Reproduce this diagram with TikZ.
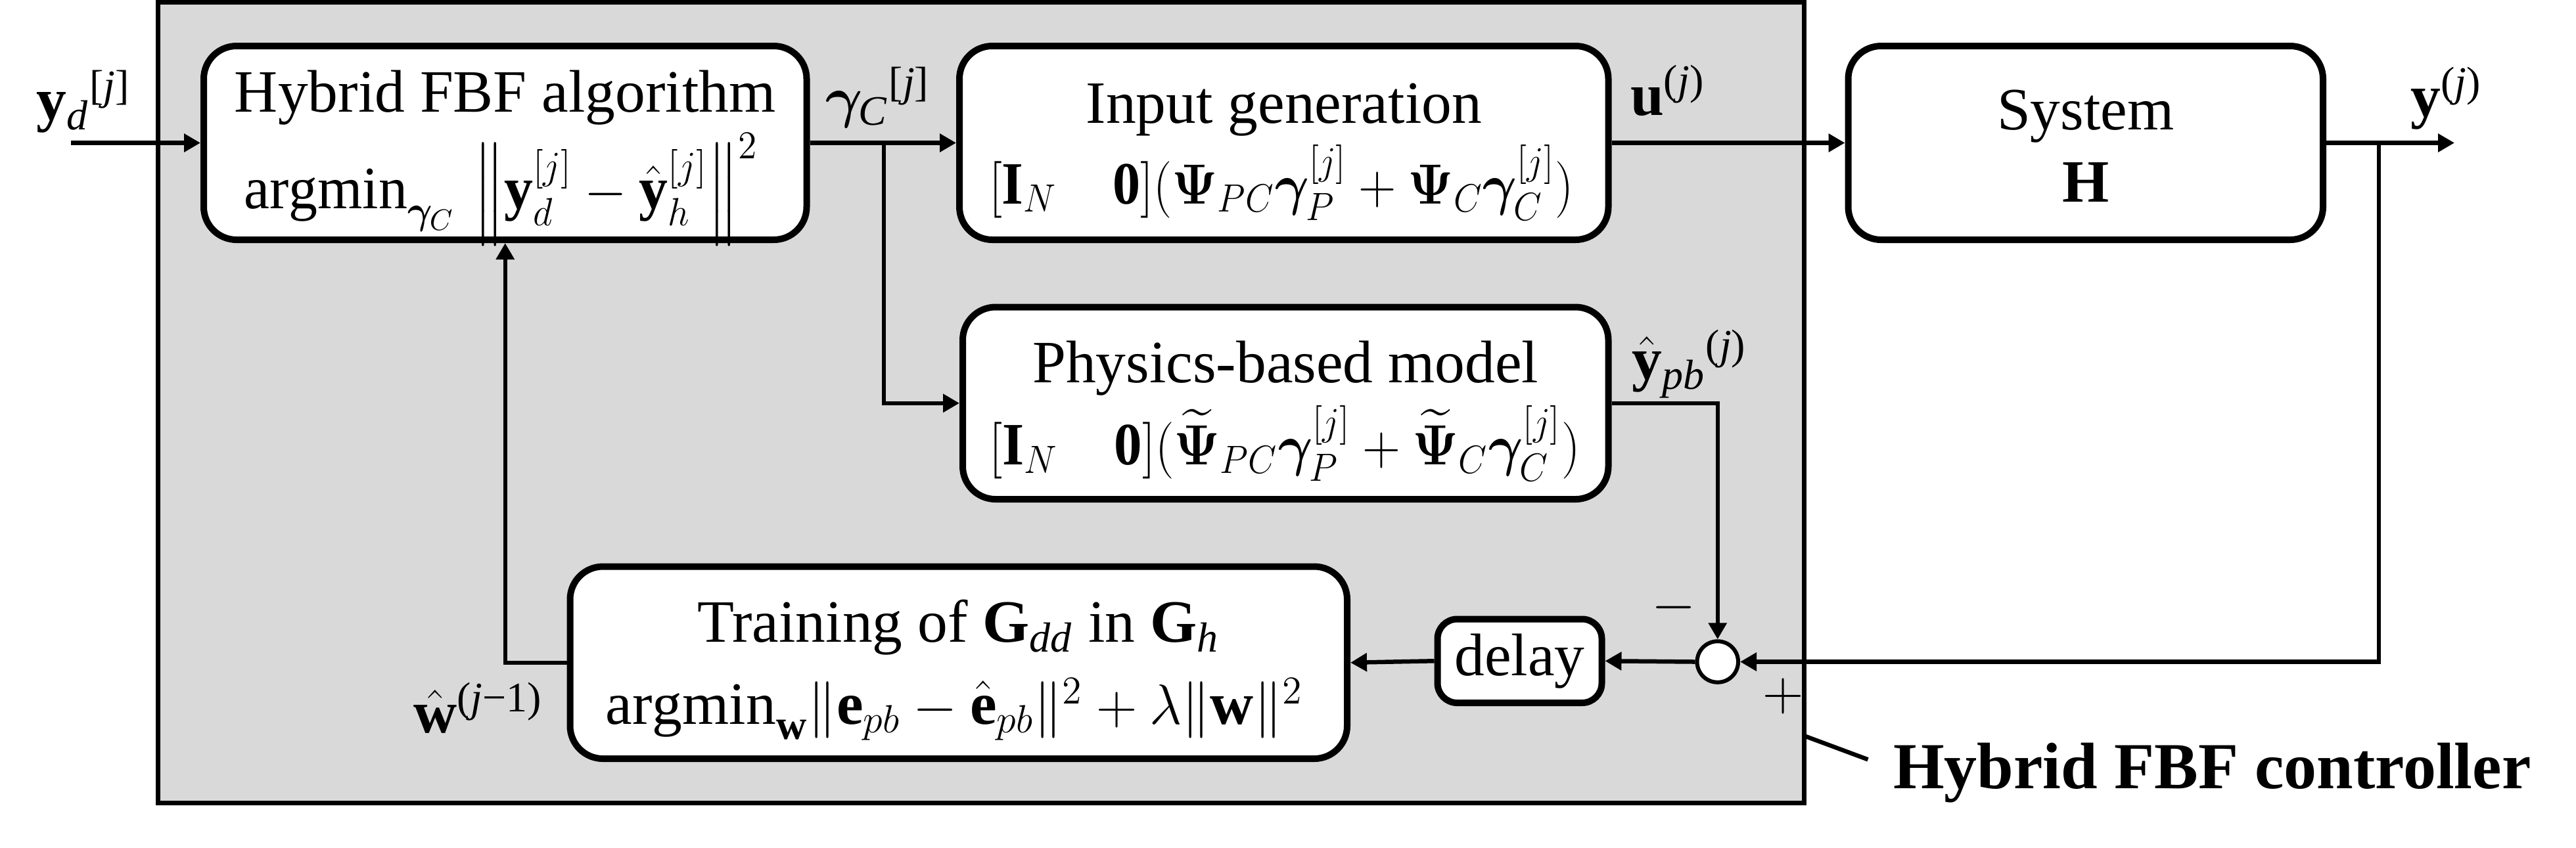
\documentclass[tikz,border=0pt]{standalone}
\usepackage{amsmath}
\usepackage{graphicx}
\usepackage{fontspec}
\setmainfont{Liberation Serif}
\usepackage{bm}
\usetikzlibrary{arrows.meta}
\definecolor{ctrlgray}{RGB}{217,217,217}
\newcommand{\itx}[1]{\text{\textit{#1}}}
\newcommand{\hsq}[2]{\scalebox{#1}[1]{#2}}
\begin{document}
\begin{tikzpicture}[x=0.5pt,y=-0.5pt,
  font=\fontsize{18.3}{22}\selectfont,
  blk/.style={draw, line width=2pt, fill=white, rounded corners=10pt, inner sep=0pt},
  txt/.style={inner sep=0pt, anchor=base},
  lbl/.style={inner sep=0pt, anchor=base west},
  wire/.style={line width=1.3pt},
  conn/.style={line width=1.3pt, -{Triangle[length=5pt,width=5.4pt]}}]
\useasboundingbox (0,0) rectangle (1568,516);
% controller region
\node[draw, line width=1.4pt, fill=ctrlgray, inner sep=0pt,
      minimum width=501pt, minimum height=243.9pt] (ctrl) at (597,245.1) {};
% blocks
\node[blk, minimum width=183.5pt, minimum height=59pt] (hyb) at (307.5,87) {};
\node[blk, minimum width=197.5pt, minimum height=59pt] (inp) at (781.5,87) {};
\node[blk, minimum width=144.5pt, minimum height=59pt] (sys) at (1269.5,87) {};
\node[blk, minimum width=196.5pt, minimum height=58.5pt] (phy) at (782.5,245.5) {};
\node[blk, minimum width=236.5pt, minimum height=58.5pt] (trn) at (583.5,403.5) {};
\node[blk, rounded corners=6pt, minimum width=50pt, minimum height=25.5pt] (dly) at (925,402.5) {delay};
\node[draw, circle, line width=1.2pt, fill=white, inner sep=0pt, minimum size=12.5pt] (sum) at (1045.5,403) {};
% block texts
\node[txt] (hybA) at (307.5,68) {Hybrid FBF algorithm};
\node[txt] (hybB) at (305,127) {\hsq{0.96}{$\mathrm{argmin}_{\bm{\gamma}_C}\,\left\|\mathbf{y}_d^{[j]}-\hat{\mathbf{y}}_h^{[j]}\right\|^2$}};
\node[txt] (inpA) at (781.5,75) {Input generation};
\node[txt] (inpB) at (780,124) {\hsq{0.92}{$[\mathbf{I}_N\quad\mathbf{0}](\bm{\Psi}_{PC}\bm{\gamma}_P^{[j]}+\bm{\Psi}_C\bm{\gamma}_C^{[j]})$}};
\node[txt] (sysA) at (1269.5,79) {System};
\node[txt] (sysB) at (1269.5,123) {\textbf{H}};
\node[txt] (phyA) at (782.5,233) {Physics-based model};
\node[txt] (phyB) at (782,283) {\hsq{0.93}{$[\mathbf{I}_N\quad\mathbf{0}](\widetilde{\bm{\Psi}}_{PC}\bm{\gamma}_P^{[j]}+\widetilde{\bm{\Psi}}_C\bm{\gamma}_C^{[j]})$}};
\node[txt] (trnA) at (583.5,391) {Training of $\mathbf{G}_{\itx{dd}}$ in $\mathbf{G}_{\itx{h}}$};
\node[txt] (trnB) at (581,441) {$\mathrm{argmin}_{\mathbf{w}}\|\mathbf{e}_{pb}-\hat{\mathbf{e}}_{pb}\|^2+\lambda\|\mathbf{w}\|^2$};
% signal labels
\node[lbl] (lyd) at (22,73) {$\mathbf{y}_{\itx{d}}{}^{\text{[\textit{j}]}}$};
\node[lbl] (lgam) at (502,71) {$\bm{\gamma}_{\itx{C}}{}^{\text{[\textit{j}]}}$};
\node[lbl] (lu) at (992,70) {$\mathbf{u}^{\text{(\textit{j})}}$};
\node[lbl] (ly) at (1467,71) {$\mathbf{y}^{\text{(\textit{j})}}$};
\node[lbl] (lypb) at (993,231) {$\hat{\mathbf{y}}_{\itx{pb}}{}^{\text{(\textit{j})}}$};
\node[inner sep=0pt, anchor=base east] (lw) at (331,446) {$\hat{\mathbf{w}}^{\text{(\textit{j}−1)}}$};
\node[inner sep=0pt] (lminus) at (1019,370) {$-$};
\node[inner sep=0pt] (lplus) at (1085.5,424) {$+$};
\node[lbl, font=\fontsize{20}{24}\selectfont\bfseries] (ttl) at (1152,480) {Hybrid FBF controller};
% connectors
\coordinate (in) at (43,87);
\coordinate (brg) at (538,87);
\coordinate (bry) at (1448,87);
\coordinate (yout) at (1494,87);
\coordinate (ldA) at (1098,448);
\coordinate (ldB) at (1137,462.5);
\draw[conn] (in) -- (hyb.west);
\draw[conn] (hyb.east) -- (inp.west);
\draw[conn] (brg) |- (phy.west);
\draw[conn] (inp.east) -- (sys.west);
\draw[conn] (sys.east) -- (yout);
\draw[conn] (bry) |- (sum.east);
\draw[conn] (phy.east) -| (sum.north);
\draw[conn] (sum.west) -- (dly.east);
\draw[conn] (dly.west) -- (trn.east);
\draw[conn] (trn.west) -| (hyb.south);
\draw[wire] (ldA) -- (ldB);
\end{tikzpicture}
\end{document}
